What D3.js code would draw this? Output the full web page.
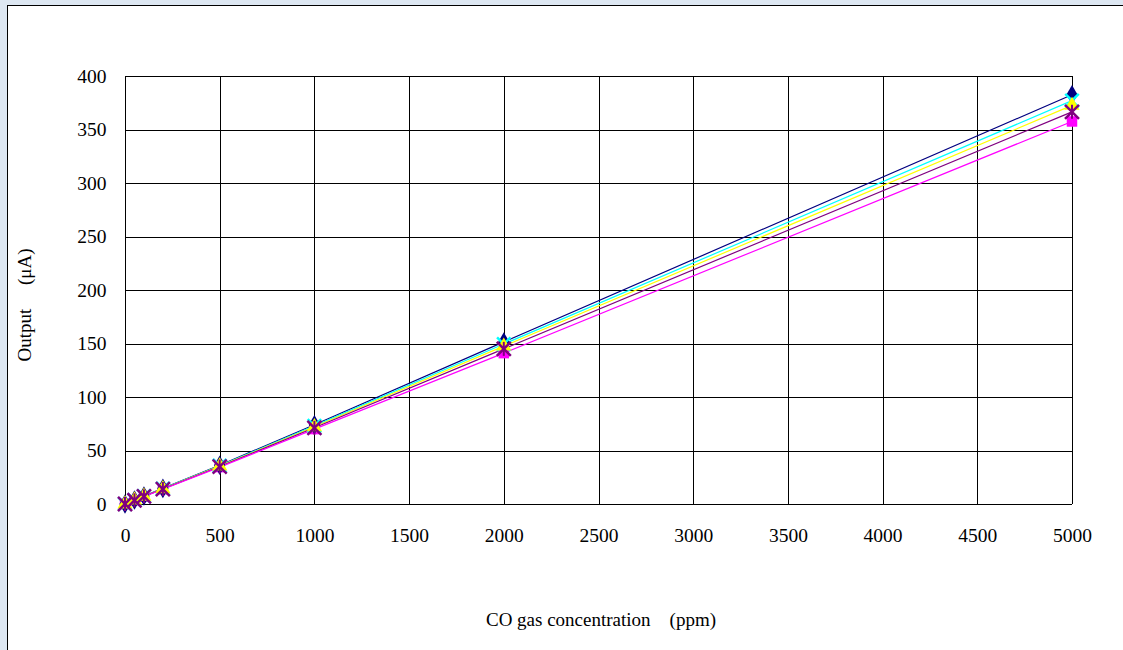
<!DOCTYPE html>
<html><head><meta charset="utf-8">
<script src="https://cdn.jsdelivr.net/npm/d3@7"></script>
<style>html,body{margin:0;padding:0;background:#dde7f2;}svg{display:block;}</style>
</head><body>
<svg id="c" width="1123" height="650"></svg>
<script>
const concentrations = [0, 50, 100, 200, 500, 1000, 2000, 5000];
const seriesNames = ["S1", "S2", "S3", "S4", "S5"];
const s1 = [0, 3.7, 7.4, 14.6, 36.2, 74.0, 151.5, 382.5];
const s2 = [0, 3.6, 7.3, 14.4, 35.8, 73.0, 149.5, 377.0];
const s3 = [0, 3.6, 7.2, 14.2, 35.4, 72.2, 147.5, 372.5];
const s4 = [0, 3.5, 7.1, 14.0, 35.0, 71.2, 145.0, 366.5];
const s5 = [0, 3.5, 7.0, 13.8, 34.5, 70.0, 141.0, 357.5];
const xTicks = [0, 500, 1000, 1500, 2000, 2500, 3000, 3500, 4000, 4500, 5000];
const yTicks = [0, 50, 100, 150, 200, 250, 300, 350, 400];
const colors = ["#000080", "#00ffff", "#ffff00", "#800080", "#ff00ff"];
const markers = ["diamond", "cross", "triangle", "star", "square"];
const seriesValues = [s1, s2, s3, s4, s5];
const markerOrder = [4, 0, 1, 2, 3];

const svg = d3.select("#c");
svg.append("rect").attr("x", 7.5).attr("y", 5.5).attr("width", 1120).attr("height", 650)
  .attr("fill", "#fff").attr("stroke", "#000").attr("stroke-width", 1);

const x = d3.scaleLinear().domain([0, 5000]).range([125, 1072]);
const y = d3.scaleLinear().domain([0, 400]).range([504, 76]);

const g = svg.append("g").attr("shape-rendering", "crispEdges");
g.selectAll(".vg").data(xTicks).join("line")
  .attr("x1", d => Math.round(x(d)) + 0.5).attr("x2", d => Math.round(x(d)) + 0.5)
  .attr("y1", y(400)).attr("y2", y(0)).attr("stroke", "#000");
g.selectAll(".hg").data(yTicks).join("line")
  .attr("y1", d => Math.round(y(d)) + 0.5).attr("y2", d => Math.round(y(d)) + 0.5)
  .attr("x1", x(0)).attr("x2", x(5000)).attr("stroke", "#000");

const font = "'Liberation Serif','Times New Roman',serif";
const xAxis = svg.append("g").attr("transform", `translate(0,${Math.round(y(0)) + 0.5})`)
  .call(d3.axisBottom(x).tickValues(xTicks).tickFormat(d3.format("d")).tickSize(0).tickPadding(24));
xAxis.select(".domain").remove();
xAxis.selectAll("text").attr("font-family", font).attr("font-size", 19.5).attr("fill", "#000");

const yAxis = svg.append("g").attr("transform", `translate(${Math.round(x(0)) + 0.5},0)`)
  .call(d3.axisLeft(y).tickValues(yTicks).tickFormat(d3.format("d")).tickSize(0).tickPadding(19));
yAxis.select(".domain").remove();
yAxis.selectAll("text").attr("font-family", font).attr("font-size", 19.5).attr("fill", "#000");

svg.append("text").attr("x", 601).attr("y", 626).attr("text-anchor", "middle")
  .attr("font-family", font).attr("font-size", 19)
  .text("CO gas concentration　(ppm)");
svg.append("text").attr("transform", "translate(31,305) rotate(-90)").attr("text-anchor", "middle")
  .attr("font-family", font).attr("font-size", 19).attr("xml:space", "preserve")
  .text("Output　 (μA)");

const line = d3.line().x((d, i) => x(concentrations[i])).y(d => y(d));
seriesValues.forEach((vals, k) => {
  svg.append("path").datum(vals).attr("d", line).attr("fill", "none")
    .attr("stroke", colors[k]).attr("stroke-width", 1.2);
});
const symMap = {
  diamond: d3.symbol().type(d3.symbolDiamond).size(110),
  square: d3.symbol().type(d3.symbolSquare).size(110),
  triangle: d3.symbol().type(d3.symbolTriangle).size(100),
  cross: d3.symbol().type(d3.symbolX).size(120),
  star: d3.symbol().type(d3.symbolX).size(130)
};
markerOrder.forEach(k => {
  const vals = seriesValues[k];
  const m = markers[k];
  svg.append("g").selectAll("path").data(vals).join("path")
    .attr("transform", (d, i) => `translate(${x(concentrations[i])},${y(d)})`)
    .attr("d", symMap[m])
    .attr("fill", (m === "cross" || m === "star") ? "none" : colors[k])
    .attr("stroke", (m === "cross" || m === "star") ? colors[k] : "none")
    .attr("stroke-width", 2.5);
  if (m === "star") {
    svg.append("g").selectAll("line").data(vals).join("line")
      .attr("x1", (d, i) => x(concentrations[i])).attr("x2", (d, i) => x(concentrations[i]))
      .attr("y1", d => y(d) - 7).attr("y2", d => y(d) + 7)
      .attr("stroke", colors[k]).attr("stroke-width", 2);
  }
});
</script>
</body></html>
